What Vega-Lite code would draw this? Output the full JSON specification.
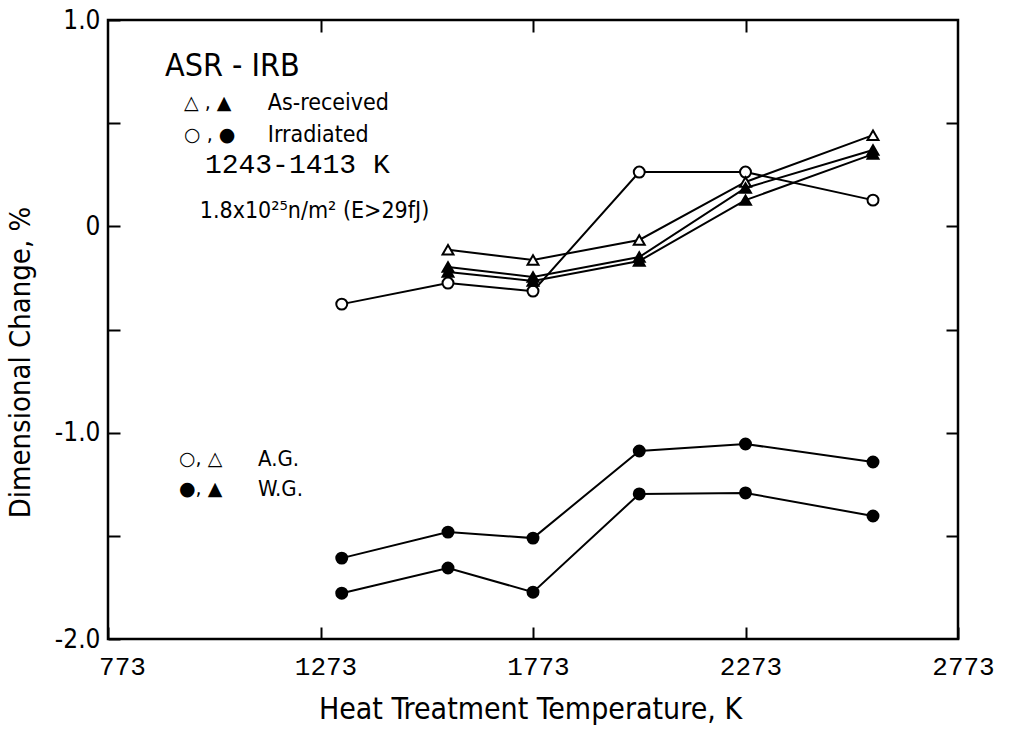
{
  "$schema": "https://vega.github.io/schema/vega-lite/v6.json",
  "width": 850,
  "height": 619,
  "autosize": {"type": "none"},
  "padding": {"left": 108, "top": 20, "right": 52, "bottom": 92},
  "background": "white",
  "config": {
    "view": {"stroke": "black", "strokeWidth": 2.5},
    "text": {"font": "DejaVu Sans Condensed, Liberation Sans Narrow, sans-serif", "color": "black"}
  },
  "datasets": {
    "series": [
      {"series": "Irradiated A.G. 1", "condition": "Irradiated", "grade": "A.G.", "temperature": 1323, "change": -0.377},
      {"series": "Irradiated A.G. 1", "condition": "Irradiated", "grade": "A.G.", "temperature": 1573, "change": -0.275},
      {"series": "Irradiated A.G. 1", "condition": "Irradiated", "grade": "A.G.", "temperature": 1773, "change": -0.314},
      {"series": "Irradiated A.G. 1", "condition": "Irradiated", "grade": "A.G.", "temperature": 2023, "change": 0.263},
      {"series": "Irradiated A.G. 1", "condition": "Irradiated", "grade": "A.G.", "temperature": 2273, "change": 0.263},
      {"series": "Irradiated A.G. 1", "condition": "Irradiated", "grade": "A.G.", "temperature": 2573, "change": 0.127},
      {"series": "As-received A.G. 1", "condition": "As-received", "grade": "A.G.", "temperature": 1573, "change": -0.114},
      {"series": "As-received A.G. 1", "condition": "As-received", "grade": "A.G.", "temperature": 1773, "change": -0.163},
      {"series": "As-received A.G. 1", "condition": "As-received", "grade": "A.G.", "temperature": 2023, "change": -0.066},
      {"series": "As-received A.G. 1", "condition": "As-received", "grade": "A.G.", "temperature": 2273, "change": 0.215},
      {"series": "As-received A.G. 1", "condition": "As-received", "grade": "A.G.", "temperature": 2573, "change": 0.442},
      {"series": "As-received W.G. 1", "condition": "As-received", "grade": "W.G.", "temperature": 1573, "change": -0.197},
      {"series": "As-received W.G. 1", "condition": "As-received", "grade": "W.G.", "temperature": 1773, "change": -0.246},
      {"series": "As-received W.G. 1", "condition": "As-received", "grade": "W.G.", "temperature": 2023, "change": -0.149},
      {"series": "As-received W.G. 1", "condition": "As-received", "grade": "W.G.", "temperature": 2273, "change": 0.186},
      {"series": "As-received W.G. 1", "condition": "As-received", "grade": "W.G.", "temperature": 2573, "change": 0.37},
      {"series": "As-received W.G. 2", "condition": "As-received", "grade": "W.G.", "temperature": 1573, "change": -0.221},
      {"series": "As-received W.G. 2", "condition": "As-received", "grade": "W.G.", "temperature": 1773, "change": -0.265},
      {"series": "As-received W.G. 2", "condition": "As-received", "grade": "W.G.", "temperature": 2023, "change": -0.168},
      {"series": "As-received W.G. 2", "condition": "As-received", "grade": "W.G.", "temperature": 2273, "change": 0.127},
      {"series": "As-received W.G. 2", "condition": "As-received", "grade": "W.G.", "temperature": 2573, "change": 0.35},
      {"series": "Irradiated W.G. 1", "condition": "Irradiated", "grade": "W.G.", "temperature": 1323, "change": -1.608},
      {"series": "Irradiated W.G. 1", "condition": "Irradiated", "grade": "W.G.", "temperature": 1573, "change": -1.482},
      {"series": "Irradiated W.G. 1", "condition": "Irradiated", "grade": "W.G.", "temperature": 1773, "change": -1.511},
      {"series": "Irradiated W.G. 1", "condition": "Irradiated", "grade": "W.G.", "temperature": 2023, "change": -1.089},
      {"series": "Irradiated W.G. 1", "condition": "Irradiated", "grade": "W.G.", "temperature": 2273, "change": -1.055},
      {"series": "Irradiated W.G. 1", "condition": "Irradiated", "grade": "W.G.", "temperature": 2573, "change": -1.142},
      {"series": "Irradiated W.G. 2", "condition": "Irradiated", "grade": "W.G.", "temperature": 1323, "change": -1.778},
      {"series": "Irradiated W.G. 2", "condition": "Irradiated", "grade": "W.G.", "temperature": 1573, "change": -1.656},
      {"series": "Irradiated W.G. 2", "condition": "Irradiated", "grade": "W.G.", "temperature": 1773, "change": -1.773},
      {"series": "Irradiated W.G. 2", "condition": "Irradiated", "grade": "W.G.", "temperature": 2023, "change": -1.297},
      {"series": "Irradiated W.G. 2", "condition": "Irradiated", "grade": "W.G.", "temperature": 2273, "change": -1.292},
      {"series": "Irradiated W.G. 2", "condition": "Irradiated", "grade": "W.G.", "temperature": 2573, "change": -1.404}
    ],
    "notes": [
      {"role": "heading", "label": "ASR - IRB", "temperature": 907, "change": 0.777},
      {"role": "symbol", "label": "△ , ▲", "temperature": 952, "change": 0.598},
      {"role": "key", "label": "As-received", "temperature": 1149, "change": 0.598},
      {"role": "symbol", "label": "○ , ●", "temperature": 952, "change": 0.442},
      {"role": "key", "label": "Irradiated", "temperature": 1149, "change": 0.442},
      {"role": "condition", "label": "1243-1413  K", "temperature": 1001, "change": 0.297},
      {"role": "key", "label": "1.8x10²⁵n/m² (E>29fJ)", "temperature": 989, "change": 0.075},
      {"role": "symbol", "label": "○, △", "temperature": 940, "change": -1.128},
      {"role": "grade", "label": "A.G.", "temperature": 1126, "change": -1.128},
      {"role": "symbol", "label": "●, ▲", "temperature": 940, "change": -1.273},
      {"role": "grade", "label": "W.G.", "temperature": 1126, "change": -1.273}
    ]
  },
  "layer": [
    {
      "mark": {"type": "rule", "color": "black", "strokeWidth": 1.8},
      "encoding": {
        "y": {"datum": 0, "type": "quantitative", "scale": {"domain": [-2, 1], "nice": false, "zero": false}, "axis": null}
      }
    },
    {
      "data": {"name": "series"},
      "mark": {"type": "line", "color": "black", "strokeWidth": 2},
      "encoding": {
        "x": {
          "field": "temperature", "type": "quantitative",
          "scale": {"domain": [773, 2773], "nice": false, "zero": false},
          "axis": {
            "orient": "bottom", "values": [773, 1273, 1773, 2273, 2773], "format": "d",
            "offset": -12, "tickSize": 12, "tickWidth": 2, "tickColor": "black",
            "domain": false, "grid": false, "labelFlush": false, "labelOverlap": false,
            "labelPadding": 14, "labelFont": "Liberation Mono", "labelFontSize": 26, "labelColor": "black",
            "labelOffset": {"condition": {"test": "datum.value == 773", "value": 14}, "value": 5},
            "title": "Heat Treatment Temperature, K",
            "titleFont": "DejaVu Sans Condensed, Liberation Sans Narrow, sans-serif",
            "titleFontSize": 30, "titleFontWeight": "normal", "titleColor": "black",
            "titleX": 422, "titleY": 82, "titleBaseline": "middle", "titleAlign": "center"
          }
        },
        "y": {
          "field": "change", "type": "quantitative",
          "scale": {"domain": [-2, 1], "nice": false, "zero": false},
          "axis": {
            "orient": "left", "values": [-2, -1.5, -1, -0.5, 0, 0.5, 1],
            "labelExpr": "datum.value == 0 ? '0' : (datum.value % 1 == 0 ? (datum.value < 0 ? '-' : '') + format(abs(datum.value), '.1f') : '')",
            "offset": -12, "tickSize": 12, "tickWidth": 2, "tickColor": "black",
            "domain": false, "grid": false, "labelFlush": false, "labelOverlap": false,
            "labelPadding": 8, "labelFont": "DejaVu Sans Condensed, Liberation Sans Narrow, sans-serif",
            "labelFontSize": 26, "labelColor": "black",
            "title": "Dimensional Change, %",
            "titleFont": "DejaVu Sans Condensed, Liberation Sans Narrow, sans-serif",
            "titleFontSize": 29, "titleFontWeight": "normal", "titleColor": "black",
            "titleX": -100, "titleY": 342, "titleBaseline": "middle", "titleAlign": "center", "titleAngle": -90
          }
        },
        "detail": {"field": "series"}
      }
    },
    {
      "data": {"name": "series"},
      "mark": {"type": "point", "filled": true, "stroke": "black", "strokeWidth": 2, "size": 120, "opacity": 1},
      "encoding": {
        "x": {
          "field": "temperature", "type": "quantitative",
          "scale": {"domain": [773, 2773], "nice": false, "zero": false},
          "axis": {
            "orient": "top", "values": [1273, 1773, 2273], "labels": false, "title": null,
            "offset": -12, "tickSize": 12, "tickWidth": 2, "tickColor": "black", "domain": false, "grid": false
          }
        },
        "y": {
          "field": "change", "type": "quantitative",
          "scale": {"domain": [-2, 1], "nice": false, "zero": false},
          "axis": {
            "orient": "right", "values": [-1.5, -1, -0.5, 0, 0.5], "labels": false, "title": null,
            "offset": -12, "tickSize": 12, "tickWidth": 2, "tickColor": "black", "domain": false, "grid": false
          }
        },
        "shape": {"field": "condition", "type": "nominal", "scale": {"domain": ["As-received", "Irradiated"], "range": ["triangle-up", "circle"]}, "legend": null},
        "fill": {"field": "grade", "type": "nominal", "scale": {"domain": ["A.G.", "W.G."], "range": ["white", "black"]}, "legend": null}
      }
    },
    {
      "data": {"name": "notes"},
      "transform": [{"filter": "datum.role == 'heading'"}],
      "mark": {"type": "text", "align": "left", "baseline": "middle", "fontSize": 32},
      "encoding": {
        "x": {"field": "temperature", "type": "quantitative", "scale": {"domain": [773, 2773], "nice": false, "zero": false}, "axis": null},
        "y": {"field": "change", "type": "quantitative", "scale": {"domain": [-2, 1], "nice": false, "zero": false}, "axis": null},
        "text": {"field": "label"}
      }
    },
    {
      "data": {"name": "notes"},
      "transform": [{"filter": "datum.role == 'symbol'"}],
      "mark": {"type": "text", "align": "left", "baseline": "middle", "fontSize": 19, "font": "DejaVu Sans"},
      "encoding": {
        "x": {"field": "temperature", "type": "quantitative", "scale": {"domain": [773, 2773], "nice": false, "zero": false}, "axis": null},
        "y": {"field": "change", "type": "quantitative", "scale": {"domain": [-2, 1], "nice": false, "zero": false}, "axis": null},
        "text": {"field": "label"}
      }
    },
    {
      "data": {"name": "notes"},
      "transform": [{"filter": "datum.role == 'key'"}],
      "mark": {"type": "text", "align": "left", "baseline": "middle", "fontSize": 23},
      "encoding": {
        "x": {"field": "temperature", "type": "quantitative", "scale": {"domain": [773, 2773], "nice": false, "zero": false}, "axis": null},
        "y": {"field": "change", "type": "quantitative", "scale": {"domain": [-2, 1], "nice": false, "zero": false}, "axis": null},
        "text": {"field": "label"}
      }
    },
    {
      "data": {"name": "notes"},
      "transform": [{"filter": "datum.role == 'grade'"}],
      "mark": {"type": "text", "align": "left", "baseline": "middle", "fontSize": 22},
      "encoding": {
        "x": {"field": "temperature", "type": "quantitative", "scale": {"domain": [773, 2773], "nice": false, "zero": false}, "axis": null},
        "y": {"field": "change", "type": "quantitative", "scale": {"domain": [-2, 1], "nice": false, "zero": false}, "axis": null},
        "text": {"field": "label"}
      }
    },
    {
      "data": {"name": "notes"},
      "transform": [{"filter": "datum.role == 'condition'"}],
      "mark": {"type": "text", "align": "left", "baseline": "middle", "fontSize": 28, "font": "Liberation Mono"},
      "encoding": {
        "x": {"field": "temperature", "type": "quantitative", "scale": {"domain": [773, 2773], "nice": false, "zero": false}, "axis": null},
        "y": {"field": "change", "type": "quantitative", "scale": {"domain": [-2, 1], "nice": false, "zero": false}, "axis": null},
        "text": {"field": "label"}
      }
    }
  ],
  "resolve": {"axis": {"x": "independent", "y": "independent"}}
}
